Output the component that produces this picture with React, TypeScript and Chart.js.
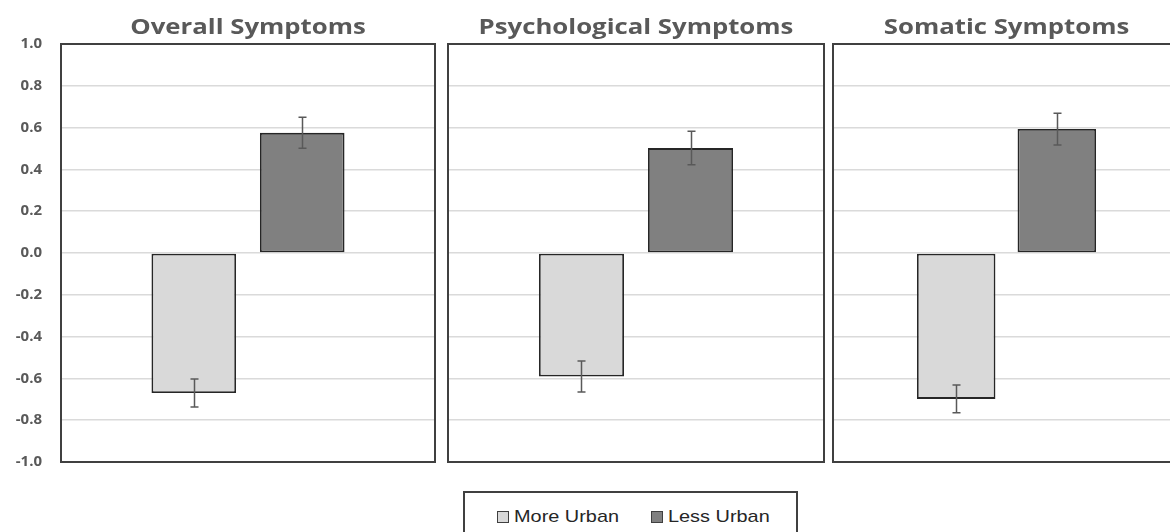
import React, { useEffect, useRef } from "react";
import { Chart, registerables } from "chart.js";

Chart.register(...registerables);

// ---------- data ----------
const panelTitles = ["Overall Symptoms", "Psychological Symptoms", "Somatic Symptoms"];
const seriesNames = ["More Urban", "Less Urban"];
const moreUrban = [-0.67, -0.591, -0.698];
const lessUrban = [0.575, 0.502, 0.593];
const moreUrbanErr = [0.067, 0.074, 0.066];
const lessUrbanErr = [0.074, 0.08, 0.076];
const yTickValues = [-1.0, -0.8, -0.6, -0.4, -0.2, 0.0, 0.2, 0.4, 0.6, 0.8, 1.0];

// ---------- style ----------
const seriesFill = ["#d9d9d9", "#808080"];
const TEXT_GRAY = "#595959";
const FRAME = "#404040";
const CANVAS_H = 490;

type PanelGeom = { left: number; width: number; padL: number; padR: number; ticks: boolean };
const panels: PanelGeom[] = [
  { left: 0, width: 438, padL: 0, padR: 3, ticks: true },
  { left: 445, width: 382, padL: 3, padR: 3, ticks: false },
  { left: 830, width: 353, padL: 3, padR: 3, ticks: false },
];

const panelPlugin = {
  id: "panelDeco",
  afterDatasetsDraw(chart: any) {
    const ctx = chart.ctx;
    const yScale = chart.scales.y;
    ctx.save();
    ctx.strokeStyle = TEXT_GRAY;
    ctx.lineWidth = 1.5;
    chart.data.datasets.forEach((ds: any, i: number) => {
      const meta = chart.getDatasetMeta(i);
      meta.data.forEach((el: any, j: number) => {
        const v = ds.data[j];
        const e = ds.errors[j];
        const x = Math.round(el.x) + 0.5;
        const yHi = yScale.getPixelForValue(v + e);
        const yLo = yScale.getPixelForValue(v - e);
        ctx.beginPath();
        ctx.moveTo(x, yHi);
        ctx.lineTo(x, yLo);
        ctx.moveTo(x - 4, yHi);
        ctx.lineTo(x + 4, yHi);
        ctx.moveTo(x - 4, yLo);
        ctx.lineTo(x + 4, yLo);
        ctx.stroke();
      });
    });
    ctx.restore();
  },
  afterDraw(chart: any) {
    const ctx = chart.ctx;
    const a = chart.chartArea;
    ctx.save();
    ctx.strokeStyle = FRAME;
    ctx.lineWidth = 2;
    ctx.strokeRect(a.left, a.top, a.right - a.left, a.bottom - a.top);
    // title
    const title = chart.data.labels[0];
    ctx.fillStyle = TEXT_GRAY;
    ctx.font = "bold 22px 'Open Sans'";
    ctx.textAlign = "center";
    ctx.textBaseline = "alphabetic";
    ctx.translate((a.left + a.right) / 2, 34);
    ctx.scale(1.17, 1);
    ctx.fillText(title, 0, 0);
    ctx.restore();
  },
};

function Panel({ idx }: { idx: number }) {
  const ref = useRef<HTMLCanvasElement>(null);
  const g = panels[idx];
  useEffect(() => {
    const mk = (k: number, vals: number[], errs: number[]) =>
      ({
        label: seriesNames[k],
        data: [vals[idx]],
        errors: [errs[idx]],
        backgroundColor: seriesFill[k],
        borderColor: "#262626",
        borderWidth: 1.8,
        borderSkipped: false,
        categoryPercentage: 0.58,
        barPercentage: 0.78,
      } as any);
    const chart = new Chart(ref.current as HTMLCanvasElement, {
      type: "bar",
      data: {
        labels: [panelTitles[idx]],
        datasets: [mk(0, moreUrban, moreUrbanErr), mk(1, lessUrban, lessUrbanErr)],
      },
      options: {
        responsive: false,
        animation: false,
        layout: { padding: { left: g.padL, right: g.padR, top: 44, bottom: CANVAS_H - 462 } },
        plugins: {
          legend: { display: false },
          title: { display: false },
          tooltip: { enabled: false },
        },
        scales: {
          x: { display: false },
          y: {
            min: -1,
            max: 1,
            afterFit: (s: any) => {
              s.width = g.ticks ? 61 : 0;
            },
            afterBuildTicks: (s: any) => {
              s.ticks = yTickValues.map((v) => ({ value: v }));
            },
            grid: { color: "#dadada", lineWidth: 1.5, drawTicks: false },
            border: { display: false },
            ticks: {
              display: g.ticks,
              padding: 19,
              color: TEXT_GRAY,
              font: { family: "'Open Sans'", weight: "bold", size: 15 },
              callback: (v: any) => (Math.abs(Number(v)) < 1e-9 ? "0.0" : Number(v).toFixed(1)),
            },
          },
        },
      } as any,
      plugins: [panelPlugin],
    });
    return () => chart.destroy();
  }, [idx]);
  return (
    <canvas
      ref={ref}
      width={g.width}
      height={CANVAS_H}
      style={{ position: "absolute", left: g.left, top: 0, width: g.width, height: CANVAS_H }}
    />
  );
}

function LegendItem({ name, color, left }: { name: string; color: string; left: number }) {
  return (
    <div style={{ position: "absolute", left, top: 0, height: 48, display: "flex", alignItems: "center" }}>
      <div
        style={{
          width: 10,
          height: 10,
          background: color,
          border: "1px solid #404040",
          marginRight: 5,
        }}
      />
      <span
        style={{
          display: "inline-block",
          fontFamily: "'Liberation Sans', Arial, sans-serif",
          fontSize: 17,
          color: "#262626",
          transform: "scaleX(1.17)",
          transformOrigin: "left center",
          whiteSpace: "nowrap",
        }}
      >
        {name}
      </span>
    </div>
  );
}

export default function App() {
  return (
    <div
      style={{
        position: "absolute",
        left: 0,
        top: 0,
        width: 1170,
        height: 532,
        overflow: "hidden",
        background: "#fff",
      }}
    >
      {panels.map((_, i) => (
        <Panel key={i} idx={i} />
      ))}
      <div
        style={{
          position: "absolute",
          left: 463,
          top: 491,
          width: 335,
          height: 60,
          border: "2px solid #404040",
          boxSizing: "border-box",
          background: "#fff",
        }}
      >
        <LegendItem name={seriesNames[0]} color={seriesFill[0]} left={32} />
        <LegendItem name={seriesNames[1]} color={seriesFill[1]} left={186} />
      </div>
    </div>
  );
}
